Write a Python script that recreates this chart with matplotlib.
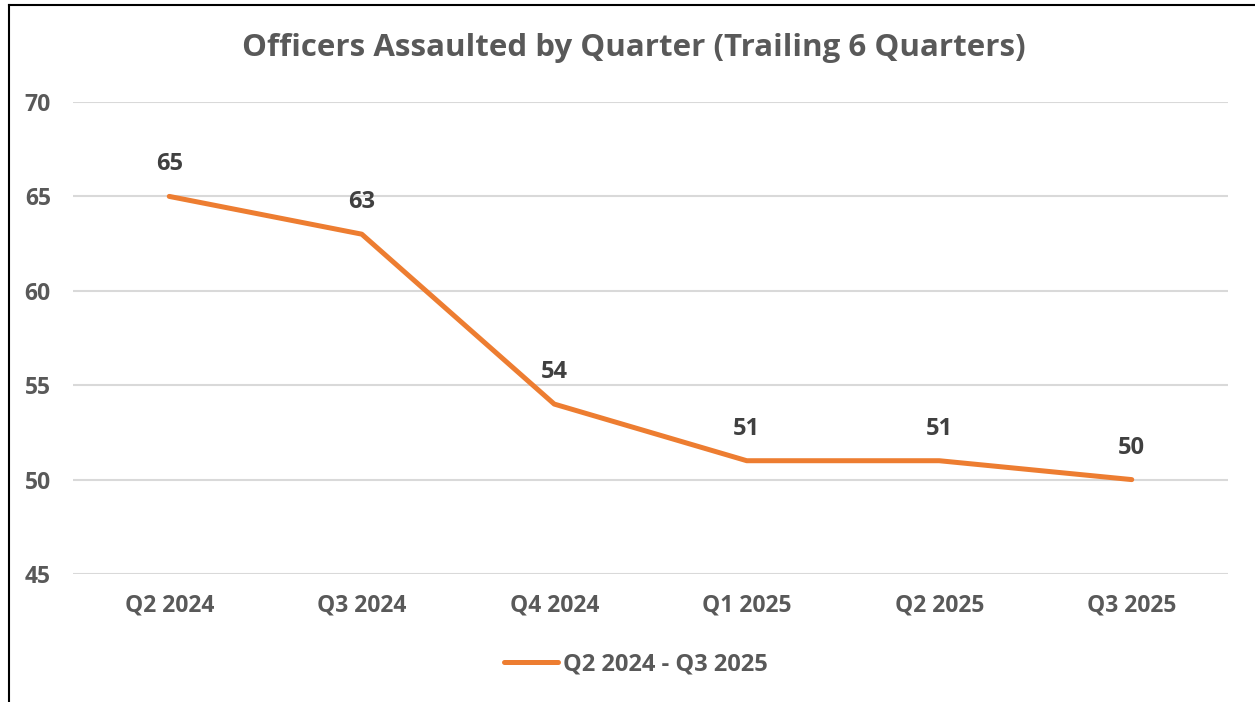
import matplotlib.pyplot as plt
from matplotlib.lines import Line2D

quarters = ['Q2 2024', 'Q3 2024', 'Q4 2024', 'Q1 2025', 'Q2 2025', 'Q3 2025']
assaults = [65, 63, 54, 51, 51, 50]
series_name = 'Q2 2024 - Q3 2025'

text_color = '#595959'
line_color = '#ED7D31'
plt.rcParams['font.family'] = ['Open Sans', 'DejaVu Sans']

fig = plt.figure(figsize=(12.55, 7.02), dpi=100)
ax = fig.add_axes([73 / 1255, 1 - 574 / 702, 1155 / 1255, 472 / 702])

x = list(range(len(quarters)))
ax.plot(x, assaults, color=line_color, linewidth=3.6, solid_capstyle='round')

for xi, v in zip(x, assaults):
    ax.annotate(str(v), (xi, v), xytext=(0, 23), textcoords='offset points',
                ha='center', va='center', fontsize=17, fontweight='bold', color='#404040')

ax.set_xlim(-0.5, len(quarters) - 0.5)
ax.set_ylim(45, 70)
ax.set_yticks(range(45, 71, 5))
ax.set_xticks(x)
ax.set_xticklabels(quarters)
ax.grid(axis='y', color='#D9D9D9', linewidth=1.5)
ax.set_axisbelow(True)
for s in ax.spines.values():
    s.set_visible(False)
ax.tick_params(length=0, labelsize=16.5, labelcolor=text_color)
ax.tick_params(axis='x', pad=14)
ax.tick_params(axis='y', pad=16)
for lab in ax.get_xticklabels() + ax.get_yticklabels():
    lab.set_fontweight('bold')

fig.text(0.505, 1 - 48 / 702, 'Officers Assaulted by Quarter (Trailing 6 Quarters)',
         ha='center', va='center', fontsize=22.5, fontweight='bold', color=text_color)

handle = Line2D([], [], color=line_color, linewidth=3.6, solid_capstyle='round')
fig.legend([handle], [series_name], loc='center', bbox_to_anchor=(636 / 1255, 1 - 664 / 702),
           frameon=False, handlelength=2.3, handletextpad=0.2,
           prop={'size': 17, 'weight': 'bold'}, labelcolor=text_color)

# frame lines on top and left edges
fig.add_artist(Line2D([8.5 / 1255, 8.5 / 1255], [0, 1 - 4.5 / 702], color='black', linewidth=1.5))
fig.add_artist(Line2D([8.5 / 1255, 1], [1 - 4.5 / 702, 1 - 4.5 / 702], color='black', linewidth=1.5))

fig.savefig('out.png', dpi=100)
